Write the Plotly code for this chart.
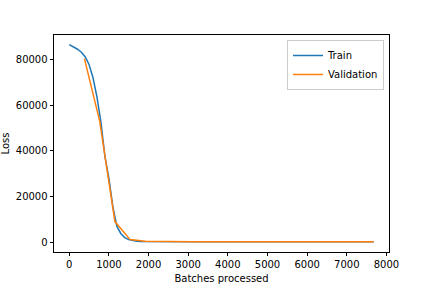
import plotly.graph_objects as go

train_x = [0, 100, 200, 300, 400, 500, 600, 700, 800, 900, 1000, 1100, 1200, 1300,
           1400, 1500, 1600, 1700, 1800, 2000, 2500, 3000, 3500, 4000, 4500, 5000,
           5500, 6000, 6500, 7000, 7500, 7680]
train_y = [86500, 85600, 84600, 83300, 81200, 77800, 72000, 63500, 52500, 37500,
           28000, 15500, 7000, 3800, 2000, 1100, 600, 400, 300, 250, 200, 180, 170,
           165, 160, 158, 155, 153, 152, 151, 150, 150]

val_x = [384, 768, 1152, 1536, 1920, 2304, 2688, 3072, 3456, 3840, 4224, 4608,
         4992, 5376, 5760, 6144, 6528, 6912, 7296, 7680]
val_y = [80400, 53000, 9000, 1100, 400, 260, 220, 200, 190, 185, 180, 178, 175,
         172, 170, 168, 166, 165, 164, 163]

x_ticks = [0, 1000, 2000, 3000, 4000, 5000, 6000, 7000, 8000]
y_ticks = [0, 20000, 40000, 60000, 80000]

fig = go.Figure()
fig.add_trace(go.Scatter(x=train_x, y=train_y, mode="lines", name="Train",
                         line=dict(color="#1f77b4", width=1.5)))
fig.add_trace(go.Scatter(x=val_x, y=val_y, mode="lines", name="Validation",
                         line=dict(color="#ff7f0e", width=1.5)))

axis_common = dict(showline=True, linecolor="black", linewidth=0.8, mirror=True,
                   ticks="outside", ticklen=3.5, tickwidth=0.8, tickcolor="black",
                   showgrid=False, zeroline=False, automargin=False,
                   tickfont=dict(family="DejaVu Sans", size=10, color="black"))

fig.update_layout(
    width=432, height=288,
    margin=dict(l=54, r=43, t=35, b=36),
    paper_bgcolor="white", plot_bgcolor="white",
    font=dict(family="DejaVu Sans", size=10, color="black"),
    xaxis=dict(range=[-384, 8064], tickvals=x_ticks, tickformat="d",
               title=dict(text="Batches processed", font=dict(size=10), standoff=5),
               **axis_common),
    yaxis=dict(range=[-4320, 90720], tickvals=y_ticks, tickformat="d",
               title=dict(text="Loss", font=dict(size=10), standoff=5),
               **axis_common),
    legend=dict(x=0.985, y=0.977, xanchor="right", yanchor="top",
                bordercolor="#cccccc", borderwidth=1, bgcolor="rgba(255,255,255,0.8)",
                font=dict(size=10), tracegroupgap=0, itemwidth=30),
    showlegend=True,
)

fig.write_html("out.html")
